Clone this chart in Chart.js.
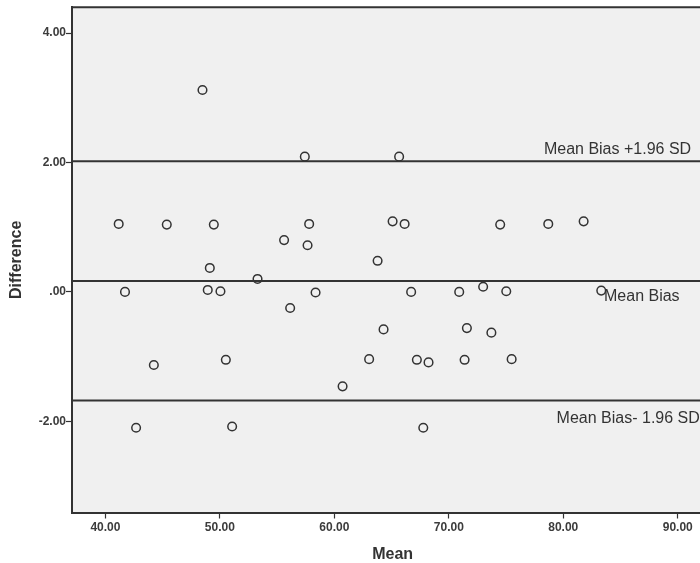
<!DOCTYPE html>
<html>
<head>
<meta charset="utf-8">
<script src="https://cdn.jsdelivr.net/npm/chart.js@4.4.0/dist/chart.umd.min.js"></script>
<style>
  html, body { margin: 0; padding: 0; background: #fff; overflow: hidden; }
  #wrap { width: 700px; height: 563px; overflow: hidden; }
</style>
</head>
<body>
<div id="wrap"><canvas id="grafica" width="719" height="563"></canvas></div>
<script>
// Datos (Bland-Altman)
const meanVals = [41.16, 45.36, 49.47, 49.12, 41.71, 48.94, 50.05, 44.23, 50.52, 48.48,
                  42.68, 51.07, 57.42, 65.66, 57.80, 55.61, 57.66, 65.09, 66.14, 63.78,
                  53.29, 58.36, 56.14, 66.71, 70.91, 64.30, 71.58, 63.04, 67.21, 68.23,
                  71.38, 60.72, 67.77, 74.49, 78.69, 81.78, 73.00, 75.02, 83.32, 73.72,
                  75.49];
const diffVals = [1.05, 1.04, 1.04, 0.37, 0.00, 0.03, 0.01, -1.13, -1.05, 3.12,
                  -2.10, -2.08, 2.09, 2.09, 1.05, 0.80, 0.72, 1.09, 1.05, 0.48,
                  0.20, -0.01, -0.25, 0.00, 0.00, -0.58, -0.56, -1.04, -1.05, -1.09,
                  -1.05, -1.46, -2.10, 1.04, 1.05, 1.09, 0.08, 0.01, 0.02, -0.63,
                  -1.04];

const meanBias = 0.17;
const upperLimit = 2.02;
const lowerLimit = -1.68;
const biasLabels = ['Mean Bias +1.96 SD', 'Mean Bias', 'Mean Bias- 1.96 SD'];

const xTickValues = [40, 50, 60, 70, 80, 90];
const xTickLabels = ['40.00', '50.00', '60.00', '70.00', '80.00', '90.00'];
const yTickValues = [-2, 0, 2, 4];
const yTickLabels = ['-2.00', '.00', '2.00', '4.00'];

const xMin = 37.08, xMax = 93.1;
const yMin = -3.41, yMax = 4.40;

const colorOscuro = '#333333';

const puntos = meanVals.map((m, i) => ({ x: m, y: diffVals[i] }));
const lineaH = (v) => [{ x: xMin, y: v }, { x: xMax, y: v }];

// fondo gris y borde superior del área
const fondoPlugin = {
    id: 'fondo',
    beforeDraw(chart) {
        const { ctx, chartArea: a } = chart;
        ctx.save();
        ctx.fillStyle = '#f0f0f0';
        ctx.fillRect(a.left, a.top, a.right - a.left, a.bottom - a.top);
        ctx.restore();
    },
    afterDraw(chart) {
        const { ctx, chartArea: a } = chart;
        ctx.save();
        ctx.strokeStyle = colorOscuro;
        ctx.lineWidth = 2;
        ctx.beginPath();
        ctx.moveTo(a.left - 1, a.top);
        ctx.lineTo(a.right, a.top);
        ctx.stroke();
        ctx.restore();
    }
};

// etiquetas de las líneas de sesgo
const etiquetasPlugin = {
    id: 'etiquetas',
    afterDatasetsDraw(chart) {
        const { ctx, scales: { x, y } } = chart;
        const items = [
            { text: biasLabels[0], xv: 78.31, yv: upperLimit, dy: -7 },
            { text: biasLabels[1], xv: 83.56, yv: meanBias, dy: 20 },
            { text: biasLabels[2], xv: 79.42, yv: lowerLimit, dy: 22.5 }
        ];
        ctx.save();
        ctx.font = '16px "Liberation Sans", Arial, sans-serif';
        ctx.fillStyle = colorOscuro;
        ctx.textAlign = 'left';
        ctx.textBaseline = 'alphabetic';
        items.forEach(it => {
            ctx.fillText(it.text, x.getPixelForValue(it.xv), y.getPixelForValue(it.yv) + it.dy);
        });
        ctx.restore();
    }
};

const lineaBase = {
    type: 'line',
    borderColor: colorOscuro,
    borderWidth: 2,
    pointRadius: 0,
    fill: false,
    tension: 0
};

new Chart(document.getElementById('grafica').getContext('2d'), {
    type: 'scatter',
    data: {
        datasets: [
            Object.assign({ label: 'Upper', data: lineaH(upperLimit) }, lineaBase),
            Object.assign({ label: 'Mean', data: lineaH(meanBias) }, lineaBase),
            Object.assign({ label: 'Lower', data: lineaH(lowerLimit) }, lineaBase),
            {
                label: 'Difference',
                data: puntos,
                pointRadius: 4.3,
                pointBorderWidth: 1.5,
                borderColor: colorOscuro,
                backgroundColor: 'rgba(0,0,0,0)',
                pointHoverRadius: 4.3
            }
        ]
    },
    options: {
        responsive: false,
        animation: false,
        devicePixelRatio: 1,
        layout: { padding: { top: 6, right: 0, bottom: 0, left: 0 } },
        plugins: { legend: { display: false }, tooltip: { enabled: false } },
        scales: {
            x: {
                type: 'linear',
                min: xMin,
                max: xMax,
                afterFit: s => { s.height = 50.5; },
                afterBuildTicks: s => { s.ticks = xTickValues.map(v => ({ value: v })); },
                ticks: {
                    padding: 2,
                    color: '#3c3c3c',
                    font: { family: '"Liberation Sans", Arial, sans-serif', size: 12, weight: 'bold' },
                    callback: v => xTickLabels[xTickValues.indexOf(v)]
                },
                grid: { drawOnChartArea: false, tickLength: 6, tickColor: colorOscuro, tickWidth: 1.2 },
                border: { display: true, color: colorOscuro, width: 2 },
                title: {
                    display: true,
                    text: 'Mean',
                    color: colorOscuro,
                    padding: { top: 0, bottom: 0 },
                    font: { family: '"Liberation Sans", Arial, sans-serif', size: 16, weight: 'bold', lineHeight: 1 }
                }
            },
            y: {
                type: 'linear',
                min: yMin,
                max: yMax,
                afterFit: s => { s.width = 72; },
                afterBuildTicks: s => { s.ticks = yTickValues.map(v => ({ value: v })); },
                ticks: {
                    padding: 0,
                    color: '#3c3c3c',
                    font: { family: '"Liberation Sans", Arial, sans-serif', size: 12, weight: 'bold' },
                    callback: v => yTickLabels[yTickValues.indexOf(v)]
                },
                grid: { drawOnChartArea: false, tickLength: 6, tickColor: colorOscuro, tickWidth: 1.2 },
                border: { display: true, color: colorOscuro, width: 2 },
                title: {
                    display: true,
                    text: 'Difference',
                    color: colorOscuro,
                    padding: { top: 9, bottom: 0 },
                    font: { family: '"Liberation Sans", Arial, sans-serif', size: 16, weight: 'bold', lineHeight: 1 }
                }
            }
        }
    },
    plugins: [fondoPlugin, etiquetasPlugin]
});
</script>
</body>
</html>
